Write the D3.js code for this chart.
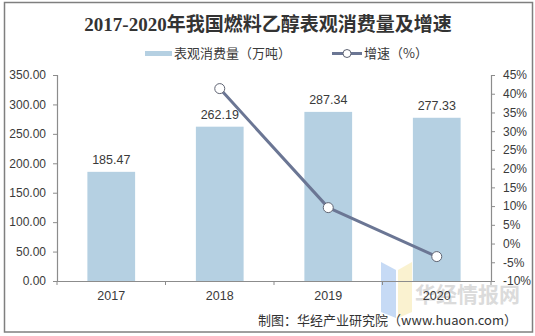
<!DOCTYPE html>
<html><head><meta charset="utf-8">
<script src="https://cdn.jsdelivr.net/npm/d3@7"></script>
<style>
html,body{margin:0;padding:0;background:#fff;}
svg{display:block;}
</style></head>
<body>
<svg id="c" width="535" height="336"></svg>
<script>
const years = ["2017","2018","2019","2020"];
const consumption = [185.47, 262.19, 287.34, 277.33];
const growth = [null, 41.37, 9.59, -3.48];
const leftTicks = [0,50,100,150,200,250,300,350];
const rightTicks = [-10,-5,0,5,10,15,20,25,30,35,40,45];
const titleText = "2017-2020年我国燃料乙醇表观消费量及增速";
const legendLabels = ["表观消费量（万吨）","增速（%）"];
const sourceText = "制图：华经产业研究院（www.huaon.com）";

const svg = d3.select("#c");
const sans = "'Liberation Sans', Arial, 'Noto Sans CJK SC', sans-serif";
const cjk = "'Noto Sans CJK SC', 'Liberation Sans', sans-serif";
const barColor = "#b5d0e2", lineColor = "#6b7694", axisColor = "#8c8c8c", textColor = "#3a3a3a";

svg.append("rect").attr("x",4.5).attr("y",2.5).attr("width",528).attr("height",329.5)
  .attr("fill","#fff").attr("stroke","#7f7f7f").attr("stroke-width",1.5);

const L = 57, R = 491, T = 75, B = 281;
const x = d3.scaleBand().domain(years).range([L,R]).paddingInner(0.56).paddingOuter(0.28);
const yL = d3.scaleLinear().domain([0,350]).range([B,T]);
const yR = d3.scaleLinear().domain([-10,45]).range([B,T]);

// watermark (behind)
const wm = svg.append("g").attr("opacity",0.5);
wm.append("path").attr("d","M381,262 L396,270 L396,318 L381,312 Z").attr("fill","#8fb6ec");
wm.append("path").attr("d","M398,270 L412,262 L412,312 L398,318 Z").attr("fill","#f6e7a3");
wm.append("text").attr("x",415).attr("y",302).attr("font-family",cjk).attr("font-weight",700)
  .attr("font-size",21).attr("fill","#b8b8b8").text("华经情报网");

// bars
svg.append("g").selectAll("rect").data(years).join("rect")
  .attr("x",d=>x(d)).attr("width",x.bandwidth())
  .attr("y",(d,i)=>yL(consumption[i])).attr("height",(d,i)=>yL(0)-yL(consumption[i]))
  .attr("fill",barColor);

// bar labels
svg.append("g").selectAll("text").data(years).join("text")
  .attr("x",d=>x(d)+x.bandwidth()/2).attr("y",(d,i)=>yL(consumption[i])-8)
  .attr("text-anchor","middle").attr("font-family",sans).attr("font-size",12.5)
  .attr("fill",textColor).text((d,i)=>consumption[i].toFixed(2));

// axes
function styleAxis(g){
  g.selectAll(".domain").attr("stroke",axisColor).attr("stroke-width",1.2);
  g.selectAll(".tick line").attr("stroke",axisColor);
  g.selectAll(".tick text").attr("fill",textColor).attr("font-family",sans).attr("font-size",12);
}
svg.append("g").attr("transform",`translate(${L},0)`)
  .call(d3.axisLeft(yL).tickValues(leftTicks).tickFormat(d3.format(".2f")).tickSizeInner(4).tickSizeOuter(4).tickPadding(7))
  .call(styleAxis);
svg.append("g").attr("transform",`translate(${R},0)`)
  .call(d3.axisRight(yR).tickValues(rightTicks).tickFormat(d=>d+"%").tickSizeInner(4).tickSizeOuter(4).tickPadding(8))
  .call(styleAxis);
const xg = svg.append("g").attr("transform",`translate(0,${B})`)
  .call(d3.axisBottom(x).tickSize(0).tickPadding(10)).call(styleAxis);
xg.selectAll(".tick text").attr("font-size",12.5);
const bounds = years.map(d=>x(d)-x.step()*x.paddingInner()/2).concat([R]);
bounds[0] = L;
xg.selectAll(".sep").data(bounds).join("line").attr("class","sep")
  .attr("x1",d=>d).attr("x2",d=>d).attr("y1",0).attr("y2",4).attr("stroke",axisColor);

// growth line
const pts = years.map((d,i)=>({d, v:growth[i]})).filter(p=>p.v!==null);
svg.append("path").datum(pts)
  .attr("d", d3.line().x(p=>x(p.d)+x.bandwidth()/2).y(p=>yR(p.v)))
  .attr("fill","none").attr("stroke",lineColor).attr("stroke-width",3).attr("stroke-linejoin","round");
svg.append("g").selectAll("circle").data(pts).join("circle")
  .attr("cx",p=>x(p.d)+x.bandwidth()/2).attr("cy",p=>yR(p.v)).attr("r",5)
  .attr("fill","#fff").attr("stroke","#5f6473").attr("stroke-width",1);

// title
svg.append("text").attr("x",268).attr("y",31).attr("text-anchor","middle")
  .attr("font-family","'Liberation Serif', 'Noto Sans CJK SC', serif").attr("font-weight",700)
  .attr("font-size",19).attr("fill","#333").text(titleText);

// legend
const lg = svg.append("g");
lg.append("rect").attr("x",145).attr("y",51).attr("width",27).attr("height",5).attr("fill",barColor);
lg.append("text").attr("x",174).attr("y",58).attr("font-family",cjk).attr("font-size",13)
  .attr("fill",textColor).text(legendLabels[0]);
lg.append("line").attr("x1",332).attr("x2",362).attr("y1",53.5).attr("y2",53.5)
  .attr("stroke",lineColor).attr("stroke-width",3);
lg.append("circle").attr("cx",347).attr("cy",53.5).attr("r",4).attr("fill","#fff").attr("stroke","#5f6473");
lg.append("text").attr("x",364).attr("y",58).attr("font-family",cjk).attr("font-size",13)
  .attr("fill",textColor).text(legendLabels[1]);

// source
svg.append("text").attr("x",517).attr("y",325).attr("text-anchor","end")
  .attr("font-family",cjk).attr("font-size",13).attr("fill","#333").text(sourceText);
</script>
</body></html>
